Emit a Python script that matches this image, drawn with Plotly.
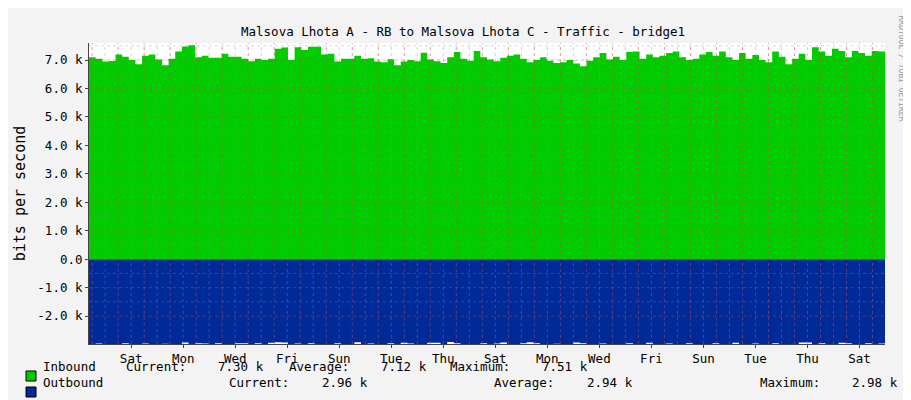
import plotly.graph_objects as go

# RRD-style traffic graph, values in k bits/s, one sample per step
inbound = [7.10, 7.05, 6.95, 6.97, 7.20, 7.12, 7.00, 6.85, 7.15, 7.20, 7.02, 6.82, 7.05, 7.30, 7.48, 7.52,
           7.10, 7.15, 7.08, 7.08, 7.22, 7.12, 7.12, 7.05, 6.96, 7.05, 7.00, 7.05, 7.40, 7.44, 7.00, 7.45,
           7.35, 7.47, 7.47, 7.20, 7.22, 6.95, 7.05, 7.05, 7.15, 7.05, 7.06, 6.95, 6.92, 7.03, 6.82, 6.95,
           7.00, 6.96, 7.26, 7.02, 6.96, 6.90, 7.10, 7.28, 7.05, 6.98, 7.32, 7.10, 7.02, 6.96, 7.08, 7.15,
           7.20, 7.05, 6.92, 7.00, 7.10, 6.98, 6.90, 6.92, 7.00, 6.88, 6.78, 6.98, 7.10, 7.25, 7.02, 7.12,
           7.00, 7.28, 7.30, 7.05, 7.20, 7.10, 7.15, 7.25, 7.30, 7.10, 7.00, 7.05, 7.20, 7.28, 7.15, 7.30,
           7.10, 7.00, 7.25, 7.05, 7.18, 7.00, 6.92, 7.30, 7.12, 6.85, 7.05, 7.22, 7.00, 7.45, 7.30, 7.15,
           7.40, 7.32, 7.10, 7.32, 7.25, 7.15, 7.32, 7.30]
outbound = [2.98, 2.96, 2.98, 2.98, 2.98, 2.95, 2.98, 2.98, 2.96, 2.98, 2.98, 2.97, 2.98, 2.98, 2.93, 2.98,
            2.95, 2.96, 2.98, 2.95, 2.98, 2.98, 2.95, 2.95, 2.98, 2.95, 2.98, 2.94, 2.92, 2.93, 2.98, 2.96,
            2.98, 2.95, 2.98, 2.98, 2.98, 2.95, 2.98, 2.98, 2.92, 2.98, 2.96, 2.98, 2.98, 2.95, 2.98, 2.94,
            2.96, 2.98, 2.98, 2.94, 2.94, 2.98, 2.91, 2.95, 2.98, 2.98, 2.98, 2.95, 2.98, 2.96, 2.93, 2.98,
            2.98, 2.95, 2.92, 2.95, 2.98, 2.98, 2.97, 2.98, 2.98, 2.93, 2.95, 2.98, 2.98, 2.96, 2.98, 2.98,
            2.98, 2.95, 2.98, 2.98, 2.94, 2.98, 2.98, 2.96, 2.98, 2.98, 2.95, 2.98, 2.98, 2.98, 2.95, 2.98,
            2.98, 2.94, 2.98, 2.98, 2.96, 2.98, 2.98, 2.95, 2.98, 2.98, 2.98, 2.93, 2.93, 2.98, 2.95, 2.98,
            2.98, 2.94, 2.95, 2.98, 2.98, 2.95, 2.98, 2.96]
day_labels = ["Sat", "Mon", "Wed", "Fri", "Sun", "Tue", "Thu", "Sat",
              "Mon", "Wed", "Fri", "Sun", "Tue", "Thu", "Sat"]
y_ticks = [-2, -1, 0, 1, 2, 3, 4, 5, 6, 7]
y_labels = ["-2.0 k", "-1.0 k", "0.0", "1.0 k", "2.0 k", "3.0 k", "4.0 k", "5.0 k", "6.0 k", "7.0 k"]

# legend rows: (name, colour, [(label, value), ...]) with pixel positions below
legend_rows = [
    ("Inbound", "#00cc00", [("Current:", "7.30 k"), ("Average:", "7.12 k"), ("Maximum:", "7.51 k")]),
    ("Outbound", "#002a97", [("Current:", "2.96 k"), ("Average:", "2.94 k"), ("Maximum:", "2.98 k")]),
]
label_px = [[116, 279, 440], [219, 484, 750]]
value_end_px = [[258, 421, 582], [362, 627, 892]]
row_y_px = [368, 384]

span = 30.6          # days shown
first_midnight = 0.12
step = span / len(inbound)
t = [i * step for i in range(len(inbound))] + [span]

L, R, T, B = 81, 34, 35, 64
PW, PH = 911 - L - R, 400 - T - B
px = lambda x: (x - L) / PW
py = lambda y: (400 - B - y) / PH

font = "DejaVu Sans Mono"
fig = go.Figure()
fig.add_trace(go.Scatter(x=t, y=inbound + [inbound[-1]], mode="lines", line=dict(shape="hv", width=0),
                         fill="tozeroy", fillcolor="#00cc00", hoverinfo="skip"))
fig.add_trace(go.Scatter(x=t, y=[-v for v in outbound] + [-outbound[-1]], mode="lines",
                         line=dict(shape="hv", width=0), fill="tozeroy", fillcolor="#002a97", hoverinfo="skip"))

shapes = []
d = first_midnight
while d < span:
    shapes.append(dict(type="line", x0=d, x1=d, y0=0, y1=1, yref="y domain", layer="above",
                       line=dict(color="rgba(230,60,60,0.55)", width=1, dash="dot")))
    if d + 0.5 < span:
        shapes.append(dict(type="line", x0=d + 0.5, x1=d + 0.5, y0=0, y1=1, yref="y domain", layer="above",
                           line=dict(color="rgba(140,140,140,0.4)", width=1, dash="dot")))
    d += 1
for v in y_ticks:
    shapes.append(dict(type="line", x0=0, x1=1, xref="x domain", y0=v, y1=v, layer="above",
                       line=dict(color="rgba(230,60,60,0.45)", width=1, dash="dot")))
    shapes.append(dict(type="line", x0=0, x1=1, xref="x domain", y0=v + 0.5, y1=v + 0.5, layer="above",
                       line=dict(color="rgba(140,140,140,0.35)", width=1, dash="dot")))

tickvals = [first_midnight + 1.5 + 2 * i for i in range(len(day_labels))]

ann = [
    dict(text="Malsova Lhota A - RB to Malsova Lhota C - Traffic - bridge1", x=px(455), y=py(14),
         xref="paper", yref="paper", showarrow=False, font=dict(size=12.5)),
    dict(text="RRDTOOL / TOBI OETIKER", x=px(900), y=py(5), xref="paper", yref="paper", yanchor="top",
         textangle=90, showarrow=False, font=dict(size=8, color="#999999")),
]
for r, (name, colour, items) in enumerate(legend_rows):
    y = py(row_y_px[r])
    shapes.append(dict(type="rect", xref="paper", yref="paper", x0=px(18), x1=px(28),
                       y0=py(row_y_px[r] + 5), y1=py(row_y_px[r] - 5), fillcolor=colour,
                       line=dict(color="#000", width=1)))
    ann.append(dict(text=name, x=px(33), y=y, xref="paper", yref="paper", xanchor="left",
                    showarrow=False, font=dict(size=12.5)))
    for k, (lab, val) in enumerate(items):
        ann.append(dict(text=lab, x=px(label_px[r][k]), y=y, xref="paper", yref="paper", xanchor="left",
                        showarrow=False, font=dict(size=12.5)))
        ann.append(dict(text=val, x=px(value_end_px[r][k]), y=y, xref="paper", yref="paper", xanchor="right",
                        showarrow=False, font=dict(size=12.5)))

fig.update_layout(
    width=911, height=400, margin=dict(l=L, r=R, t=T, b=B, autoexpand=False),
    paper_bgcolor="#f3f3f3", plot_bgcolor="#ffffff", showlegend=False,
    font=dict(family=font, size=12.5, color="#000000"),
    xaxis=dict(range=[0, span], tickvals=tickvals, ticktext=day_labels, showgrid=False, zeroline=False,
               showline=True, linecolor="#444", ticks="outside", ticklen=3, fixedrange=True),
    yaxis=dict(range=[-2.98, 7.6], tickvals=y_ticks, ticktext=y_labels, showgrid=False, zeroline=False,
               showline=True, linecolor="#444", ticks="outside", ticklen=3,
               title=dict(text="bits per second", standoff=8), fixedrange=True),
    shapes=shapes, annotations=ann,
)
fig.write_html("out.html")
